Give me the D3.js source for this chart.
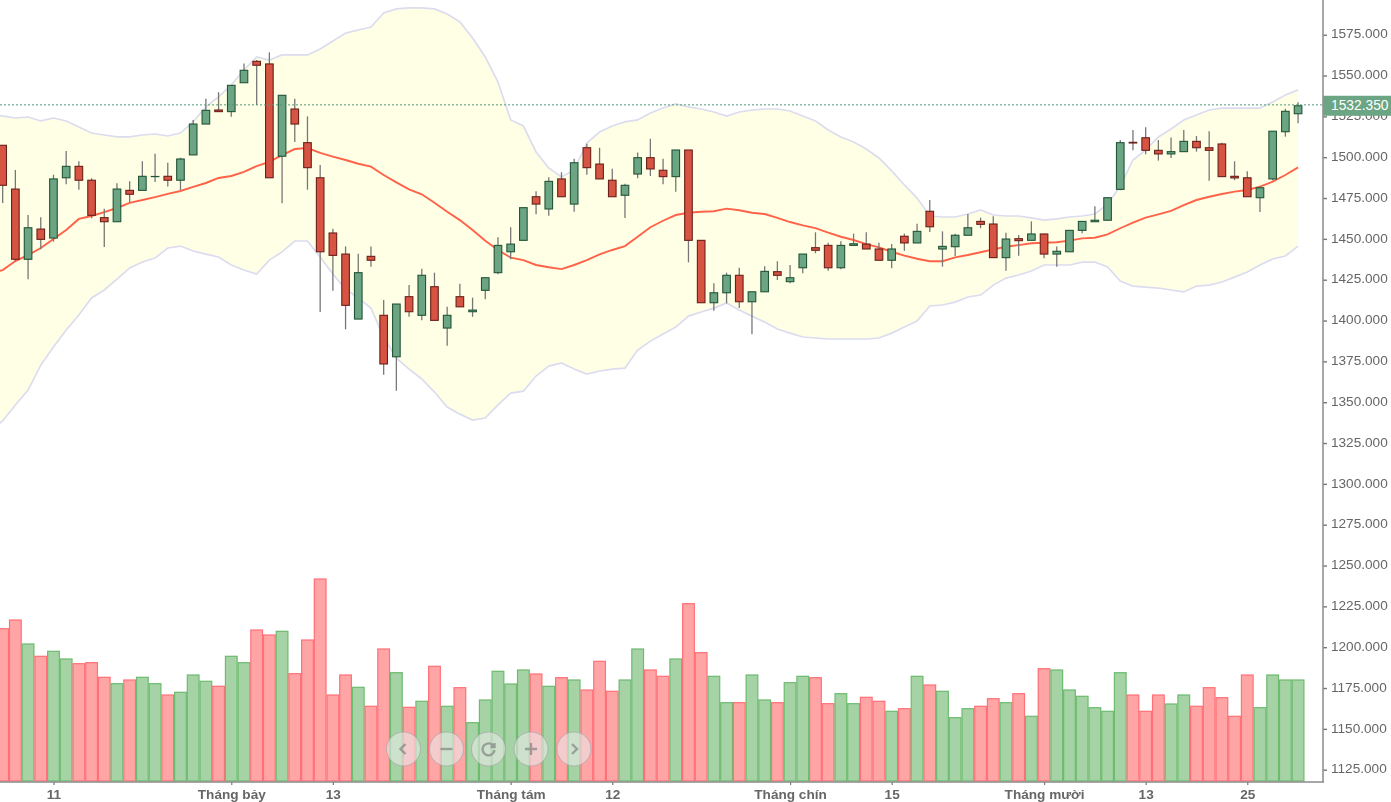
<!DOCTYPE html>
<html>
<head>
<meta charset="utf-8">
<title>Chart</title>
<script src="https://d3js.org/d3.v7.min.js"></script>
<style>
  html, body { margin: 0; padding: 0; background: #fff; overflow: hidden; }
  svg { display: block; filter: blur(0.45px); }
  text { font-family: "Liberation Sans", Arial, sans-serif; }
</style>
</head>
<body>
<script>
var openPrices = [1507.3,1480.5,1437.5,1456.0,1450.5,1487.4,1494.4,1485.9,1463.0,1460.5,1479.7,1479.7,1488.1,1488.3,1485.9,1501.4,1520.3,1528.9,1527.9,1545.6,1558.7,1557.1,1500.6,1529.5,1508.9,1487.4,1453.6,1440.7,1400.9,1439.3,1403.2,1377.8,1414.6,1403.2,1420.7,1395.4,1414.6,1405.4,1418.5,1429.3,1442.1,1449.1,1475.8,1468.3,1486.7,1471.3,1505.8,1495.8,1485.9,1476.7,1489.7,1499.7,1492.0,1488.1,1504.4,1449.1,1410.9,1417.0,1427.7,1411.5,1417.6,1429.9,1423.8,1432.3,1444.6,1446.0,1432.3,1446.0,1446.8,1443.8,1436.9,1451.6,1447.5,1466.9,1443.8,1445.2,1452.2,1460.7,1459.1,1438.5,1450.1,1449.1,1453.0,1440.7,1442.1,1455.2,1460.5,1461.4,1480.3,1509.1,1511.9,1504.2,1502.0,1503.4,1509.7,1505.8,1508.1,1488.3,1487.4,1475.2,1486.7,1515.6,1526.6];
var closePrices = [1482.8,1437.5,1456.8,1449.7,1486.7,1494.4,1485.9,1464.4,1460.5,1480.5,1477.3,1488.3,1488.2,1485.9,1498.9,1520.3,1528.7,1527.9,1544.0,1553.2,1556.3,1487.4,1537.9,1520.3,1493.6,1442.1,1439.9,1409.3,1429.3,1436.9,1373.4,1410.1,1405.4,1427.7,1400.1,1403.2,1408.4,1406.4,1426.2,1446.0,1446.8,1469.1,1471.3,1485.2,1475.8,1496.6,1493.6,1486.7,1475.8,1482.8,1499.7,1492.8,1488.1,1504.4,1449.1,1410.9,1417.0,1427.7,1411.5,1417.6,1430.1,1427.7,1426.2,1440.7,1443.0,1432.3,1446.0,1447.0,1443.8,1436.9,1443.8,1447.5,1454.6,1457.4,1445.4,1452.2,1456.8,1458.9,1438.5,1449.9,1448.9,1453.0,1440.7,1442.4,1455.2,1460.7,1461.4,1475.2,1508.9,1508.7,1504.2,1502.0,1503.4,1509.7,1505.8,1504.2,1488.1,1487.3,1475.8,1481.3,1515.9,1528.1,1531.5];
var highPrices = [1507.3,1492.2,1464.6,1463.2,1489.3,1503.8,1497.5,1487.1,1468.5,1484.0,1485.2,1497.5,1502.1,1496.6,1499.7,1522.8,1535.8,1539.8,1544.0,1557.3,1559.5,1564.2,1537.9,1535.8,1525.0,1495.2,1456.2,1445.4,1440.9,1445.4,1412.6,1410.1,1421.7,1431.7,1429.3,1408.4,1422.5,1414.0,1426.2,1451.0,1457.1,1469.1,1479.1,1487.7,1490.8,1499.1,1508.3,1505.8,1493.0,1483.8,1502.9,1511.3,1499.1,1504.4,1504.4,1449.1,1422.8,1429.3,1432.3,1417.6,1433.2,1436.3,1434.0,1440.7,1454.0,1447.6,1448.5,1453.2,1454.0,1447.6,1446.8,1453.2,1459.3,1473.8,1454.6,1453.2,1465.2,1463.0,1463.8,1453.8,1452.4,1460.7,1453.0,1445.4,1455.2,1460.7,1469.9,1475.2,1510.5,1516.7,1518.3,1510.5,1512.0,1516.7,1513.0,1515.9,1508.9,1497.5,1491.4,1482.2,1515.9,1529.7,1533.6];
var lowPrices = [1472.0,1436.0,1425.2,1443.6,1448.3,1483.4,1480.1,1462.6,1445.0,1460.5,1472.4,1479.7,1484.8,1482.0,1479.9,1501.4,1520.3,1527.9,1524.8,1545.6,1532.0,1487.4,1471.8,1509.3,1480.1,1405.2,1418.3,1394.6,1400.9,1433.0,1366.8,1357.0,1402.3,1400.1,1400.1,1384.6,1408.4,1402.3,1413.0,1428.3,1437.5,1449.1,1465.0,1464.2,1475.8,1466.6,1489.3,1486.7,1475.8,1462.8,1487.1,1488.5,1483.4,1478.9,1435.6,1410.9,1406.0,1410.5,1407.6,1391.6,1417.6,1424.8,1422.8,1428.9,1441.2,1430.5,1431.4,1446.0,1443.8,1436.9,1432.0,1442.7,1447.5,1454.2,1433.0,1439.5,1452.2,1456.5,1438.5,1430.5,1439.7,1449.1,1438.1,1433.0,1442.1,1453.4,1460.5,1461.4,1479.7,1504.2,1501.8,1497.9,1499.5,1503.4,1503.4,1485.6,1488.1,1485.9,1475.8,1466.4,1485.9,1512.6,1520.8];

// relative volume, no axis for it in the picture
var volumes = [152.3,161,137,124.7,129.7,122,117.3,118.3,103.7,97.3,101,103.7,97.3,86,88.7,106,99.7,94.7,124.7,118.3,151,146,149.7,107.3,141,202,86,106,93.7,74.7,132,108.3,73.7,79.7,114.7,74.7,93.3,58.3,81,109.7,97,111,107,94.7,103.3,101,91,119.7,89.7,101,132,111,104.7,122,177.3,128.3,104.7,78.3,78.3,106,81,78.3,98.3,104.7,103.3,77.3,87.3,77.3,83.7,79.7,69.7,72.3,104.7,96,89.7,63.3,72.3,74.7,82.3,78.3,87.3,64.7,112.3,111,91,84.7,73.3,69.7,108.3,86,69.7,86,77,86,74.7,93.3,83.3,64.7,106,73.3,106,101,101];

// bands start one session before the first visible candle
var upperBand = [1526.5,1525.2,1524.0,1524.6,1522.2,1524.0,1522.2,1518.5,1514.8,1513.6,1512.4,1512.4,1513.6,1514.2,1513.0,1514.8,1521.6,1530.8,1536.9,1544.2,1553.4,1561.4,1559.5,1562.6,1562.6,1562.6,1566.3,1571.2,1576.0,1577.9,1579.7,1588.3,1590.8,1591.4,1591.4,1590.8,1587.7,1582.8,1573.0,1561.4,1546.0,1522.8,1519.1,1503.2,1493.4,1487.9,1492.2,1508.7,1515.4,1519.1,1521.6,1522.8,1527.1,1530.1,1532.6,1530.8,1529.5,1527.7,1525.2,1527.7,1528.9,1529.5,1529.5,1528.3,1525.2,1522.2,1516.7,1512.4,1509.3,1505.0,1499.5,1491.6,1483.0,1475.0,1464.0,1463.4,1463.4,1465.2,1467.7,1464.6,1464.0,1464.0,1462.8,1461.5,1462.2,1463.4,1464.0,1465.2,1471.3,1482.4,1498.3,1504.4,1512.4,1517.3,1522.8,1525.8,1528.9,1530.1,1530.1,1530.1,1530.1,1533.8,1538.1,1541.2];
var middleBand = [1429.1,1430.9,1436.4,1440.1,1444.4,1449.9,1455.4,1462.2,1464.0,1466.4,1468.9,1472.0,1473.8,1475.6,1477.5,1479.3,1481.8,1484.2,1487.3,1488.5,1491.0,1494.6,1497.1,1501.3,1505.0,1505.6,1502.6,1500.4,1498.3,1496.0,1494.2,1489.1,1484.6,1480.3,1477.3,1472.1,1466.6,1461.5,1455.4,1448.9,1443.2,1438.5,1437.0,1434.0,1432.6,1431.5,1434.0,1437.0,1440.5,1443.2,1445.6,1451.3,1457.1,1461.1,1464.6,1466.0,1466.6,1466.9,1468.5,1467.5,1466.0,1465.2,1462.8,1460.3,1458.3,1456.6,1453.8,1451.3,1449.3,1446.8,1444.8,1442.1,1439.7,1437.8,1436.3,1436.3,1438.7,1440.1,1441.8,1443.6,1445.2,1446.2,1447.3,1447.6,1447.9,1448.9,1450.3,1450.7,1452.8,1456.5,1459.9,1463.0,1465.0,1467.1,1470.7,1473.8,1475.8,1477.5,1478.9,1479.9,1482.0,1485.0,1489.1,1493.8];
var lowerBand = [1332.9,1338.5,1348.3,1357.4,1372.7,1383.8,1394.2,1403.4,1413.8,1418.7,1425.4,1432.2,1435.8,1438.3,1444.4,1445.6,1442.6,1440.7,1438.9,1434.0,1430.9,1428.5,1437.0,1442.0,1448.7,1448.7,1438.9,1428.5,1419.3,1413.8,1407.6,1389.9,1377.0,1370.3,1364.2,1356.2,1347.0,1342.7,1339.1,1340.3,1348.3,1355.6,1356.8,1366.0,1372.1,1374.0,1370.3,1367.2,1369.1,1370.3,1370.9,1381.9,1387.4,1391.7,1396.0,1402.7,1405.2,1407.6,1410.7,1406.4,1402.7,1399.1,1394.8,1392.3,1389.9,1389.3,1388.7,1388.7,1388.7,1388.7,1389.3,1392.3,1396.0,1399.7,1408.9,1409.5,1411.3,1414.4,1415.6,1421.7,1426.0,1427.9,1430.3,1434.0,1434.0,1434.0,1435.8,1435.8,1432.8,1424.2,1421.1,1420.5,1419.9,1418.7,1417.5,1421.1,1421.7,1423.6,1426.6,1429.7,1434.0,1437.7,1439.5,1445.6];

var priceTicks = [1125,1150,1175,1200,1225,1250,1275,1300,1325,1350,1375,1400,1425,1450,1475,1500,1525,1550,1575];
var dateTickIndex = [4,18,26,40,48,62,70,82,90,98];
var dateTickLabels = ['11','Tháng bảy','13','Tháng tám','12','Tháng chín','15','Tháng mười','13','25'];
var lastPrice = 1532.35;

var width = 1391, height = 802;
var axisX = 1323, baseY = 782;

var svg = d3.select('body').append('svg').attr('width', width).attr('height', height);

var x = d3.scaleLinear().domain([0, 102]).range([2.67, 1298.07]);
var y = d3.scaleLinear().domain([1125, 1575]).range([769.7, 34.7]);
var yVol = d3.scaleLinear().domain([0, 202]).range([781, 579]);
var step = x(1) - x(0);
var bodyW = 7.6;

var candles = openPrices.map(function (o, i) {
  return { i: i, open: o, close: closePrices[i], high: highPrices[i], low: lowPrices[i], vol: volumes[i], up: closePrices[i] >= o };
});

// bollinger area + lines
var bandX = function (d, i) { return x(i - 1); };
var area = d3.area().x(bandX).y0(function (d, i) { return y(lowerBand[i]); }).y1(function (d) { return y(d); });
var line = d3.line().x(bandX).y(function (d) { return y(d); });

svg.append('path').attr('d', area(upperBand)).attr('fill', '#ffffe6');
svg.append('path').attr('d', line(upperBand)).attr('fill', 'none').attr('stroke', '#dcdcf0').attr('stroke-width', 1.7);
svg.append('path').attr('d', line(lowerBand)).attr('fill', 'none').attr('stroke', '#dcdcf0').attr('stroke-width', 1.7);

// volume
svg.append('g').selectAll('rect').data(candles).enter().append('rect')
  .attr('x', function (d) { return x(d.i) - step / 2 + 0.5; })
  .attr('width', step - 1)
  .attr('y', function (d) { return yVol(d.vol); })
  .attr('height', function (d) { return yVol(0) - yVol(d.vol); })
  .attr('fill', function (d) { return d.up ? '#a6d3a5' : '#ffa5a5'; })
  .attr('stroke', function (d) { return d.up ? '#6dbb6f' : '#ff7077'; })
  .attr('stroke-width', 1.2);

svg.append('path').attr('d', line(middleBand)).attr('fill', 'none').attr('stroke', '#ff6248').attr('stroke-width', 1.9);

// candles
svg.append('g').selectAll('line').data(candles).enter().append('line')
  .attr('x1', function (d) { return x(d.i); })
  .attr('x2', function (d) { return x(d.i); })
  .attr('y1', function (d) { return y(d.high); })
  .attr('y2', function (d) { return y(d.low); })
  .attr('stroke', '#777')
  .attr('stroke-width', 1.3);

svg.append('g').selectAll('rect').data(candles).enter().append('rect')
  .attr('x', function (d) { return x(d.i) - bodyW / 2; })
  .attr('width', bodyW)
  .attr('y', function (d) { return y(Math.max(d.open, d.close)); })
  .attr('height', function (d) { return Math.abs(y(d.open) - y(d.close)); })
  .attr('fill', function (d) { return d.up ? '#6ba583' : '#d75442'; })
  .attr('stroke', function (d) { return d.up ? '#225437' : '#6b1f1a'; })
  .attr('stroke-width', 1.1);

// last price line
svg.append('line')
  .attr('x1', 0).attr('x2', axisX)
  .attr('y1', y(lastPrice) + 0.5).attr('y2', y(lastPrice) + 0.5)
  .attr('stroke', '#4f9a78').attr('stroke-dasharray', '2,2');

// axes
var yAxis = d3.axisRight(y).tickValues(priceTicks).tickSizeOuter(0).tickSize(4).tickPadding(4).tickFormat(d3.format('.3f'));
var gy = svg.append('g').attr('transform', 'translate(' + axisX + ',0)').call(yAxis);
gy.select('.domain').remove();
gy.selectAll('line').attr('stroke', '#777').attr('stroke-width', 1.4);
gy.selectAll('text').attr('fill', '#666').attr('dy', '0.24em').style('font-size', '13.6px');

var xAxis = d3.axisBottom(x).tickValues(dateTickIndex).tickSize(3).tickPadding(4)
  .tickFormat(function (d, i) { return dateTickLabels[i]; });
var gx = svg.append('g').attr('transform', 'translate(0,' + baseY + ')').call(xAxis);
gx.select('.domain').remove();
gx.selectAll('line').attr('stroke', '#777').attr('stroke-width', 1.2);
gx.selectAll('text').attr('fill', '#666').style('font-size', '13.6px').style('font-weight', 'bold');

svg.append('line').attr('x1', 0).attr('x2', axisX + 1).attr('y1', baseY).attr('y2', baseY).attr('stroke', '#8a8a8a').attr('stroke-width', 1.5);
svg.append('line').attr('x1', axisX).attr('x2', axisX).attr('y1', 0).attr('y2', baseY).attr('stroke', '#8a8a8a').attr('stroke-width', 1.5);

// last price tag, covers the top of the 1525 label like the original
svg.append('rect').attr('x', axisX).attr('y', y(lastPrice) - 8.6).attr('width', width - axisX).attr('height', 20).attr('fill', '#6ba583');
svg.append('text').attr('x', 1331).attr('y', y(lastPrice) + 1).attr('dy', '0.35em')
  .attr('fill', '#fff').style('font-size', '13.8px').text(d3.format('.3f')(lastPrice));

// navigation buttons over the volume bars
var navX = [403.5, 446.5, 488.5, 531, 574];
var nav = svg.append('g').selectAll('g').data(navX).enter().append('g')
  .attr('transform', function (d) { return 'translate(' + d + ',749)'; });
nav.append('circle').attr('r', 17)
  .attr('fill', 'rgba(235,235,235,0.58)').attr('stroke', 'rgba(165,165,165,0.7)').attr('stroke-width', 1);
var navIcons = ['M2,-5 L-3,0 L2,5', 'M-6,0 L6,0', 'M5,-3 A6,6 0 1 0 6,1 M6,-6 L6,-2 L2,-2', 'M-6,0 L6,0 M0,-6 L0,6', 'M-2,-5 L3,0 L-2,5'];
nav.append('path').attr('d', function (d, i) { return navIcons[i]; })
  .attr('fill', 'none').attr('stroke', 'rgba(125,125,125,0.65)').attr('stroke-width', 2.4);
</script>
</body>
</html>
